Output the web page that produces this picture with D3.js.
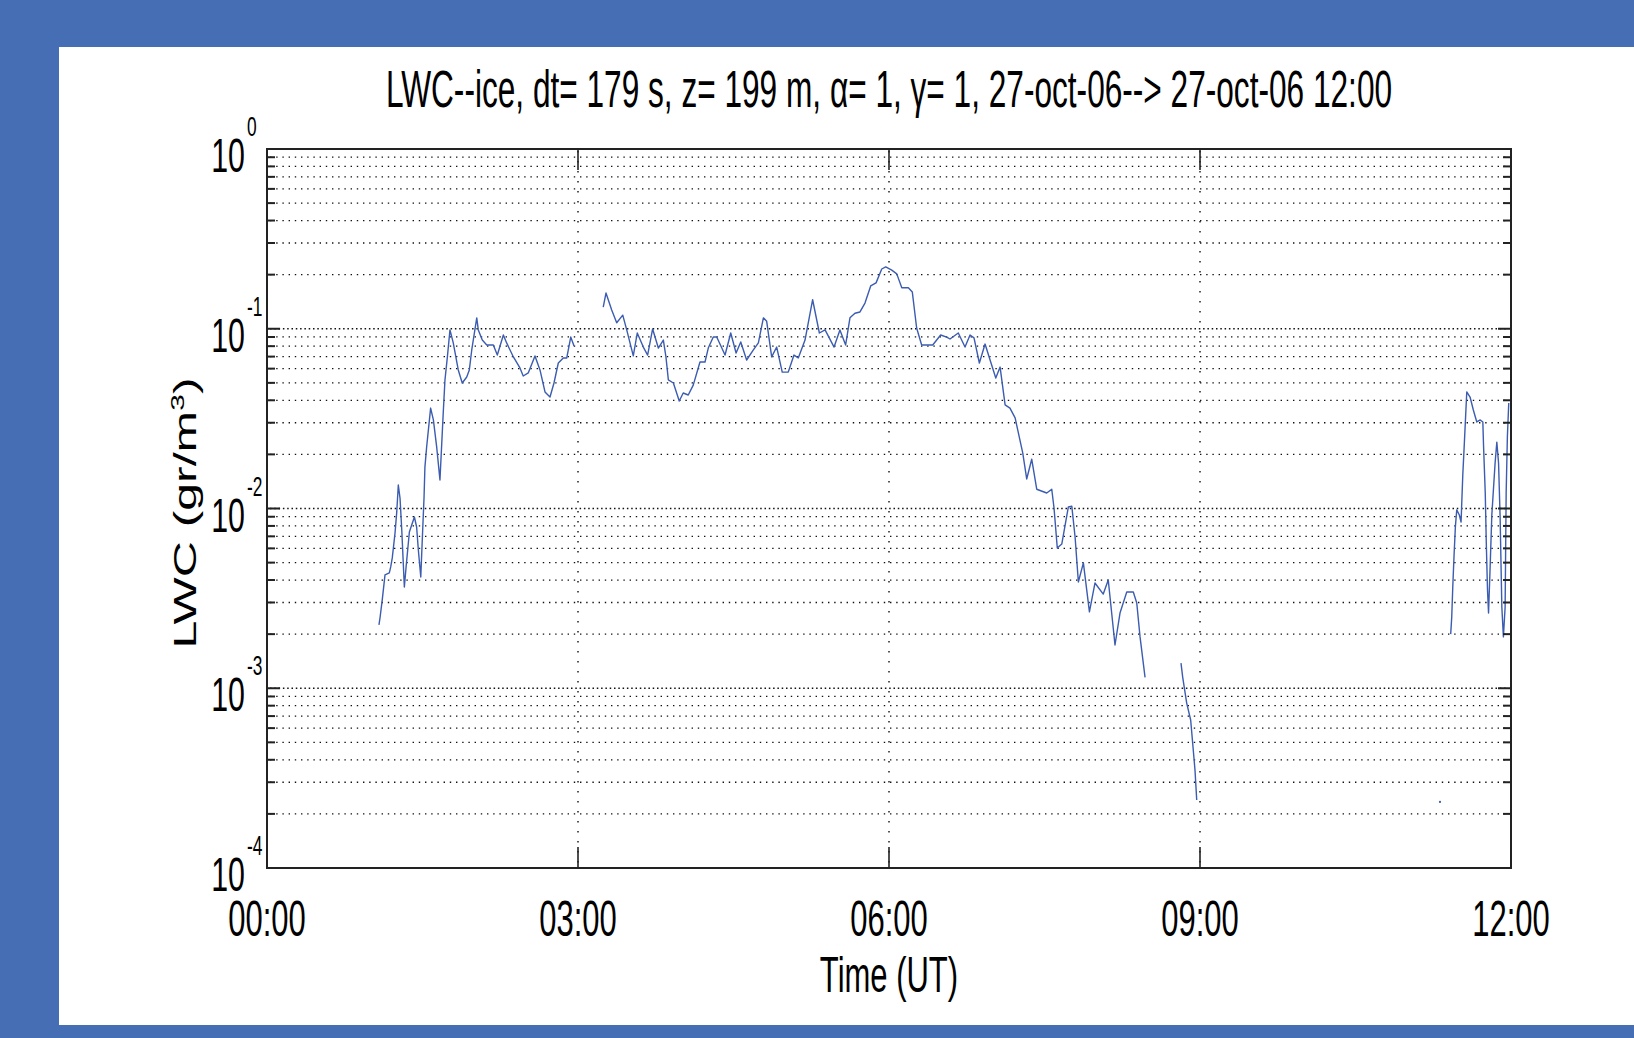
<!DOCTYPE html>
<html>
<head>
<meta charset="utf-8">
<script src="https://cdn.jsdelivr.net/npm/d3@7"></script>
<style>
  html, body { margin: 0; padding: 0; background: #466eb4; }
  svg { display: block; }
  text { font-family: "Liberation Sans", Arial, Helvetica, sans-serif; fill: #000; }
</style>
</head>
<body>
<svg id="chart" width="1634" height="1038"></svg>
<script>
// ---- labels -------------------------------------------------------------
const titleText = "LWC--ice, dt= 179 s, z= 199 m, \u03b1= 1, \u03b3= 1, 27-oct-06--> 27-oct-06 12:00";
const xAxisTitle = "Time (UT)";
const yAxisTitle = "LWC (gr/m";
const yAxisTitleSup = "3";

// ---- ticks --------------------------------------------------------------
const xTickMinutes = [0, 180, 360, 540, 720];
const xTickLabels = ["00:00", "03:00", "06:00", "09:00", "12:00"];
const yTickExponents = [0, -1, -2, -3, -4];

// ---- LWC series: [minutes after 00:00 UT, g/m^3], split where data are missing
const lwcSeg1 = [
  [64.8,0.00225],[65.4,0.00246],[66.7,0.00310],[68.3,0.00427],[70.8,0.00438],[71.6,0.00473],
  [72.5,0.00531],[74.1,0.00731],[75.1,0.00957],[76.0,0.0135],[77.0,0.0114],[78.0,0.00759],
  [79.5,0.00366],[80.5,0.00473],[82.4,0.00740],[85.3,0.00897],[86.6,0.00789],[87.6,0.00588],
  [89.0,0.00416],[90.1,0.00759],[90.9,0.0116],[91.4,0.0170],[92.4,0.0220],[94.7,0.0362],
  [96.3,0.0311],[98.2,0.0220],[100.1,0.0144],[102.0,0.0340],[103.0,0.0519],[104.4,0.0697],
  [105.9,0.0985],[107.8,0.0834],[110.7,0.0590],[113.0,0.0499],[115.6,0.0539],[117.1,0.0590],
  [118.5,0.0762],[121.4,0.115],[122.3,0.0985],[124.6,0.0865],[127.2,0.0812],[131.0,0.0812],
  [133.3,0.0714],[136.8,0.0923],[138.7,0.0834],[142.6,0.0697],[146.4,0.0605],[148.3,0.0546],
  [151.2,0.0568],[155.1,0.0706],[158.0,0.0590],[160.9,0.0445],[163.8,0.0417],[166.1,0.0499],
  [168.6,0.0645],[171.5,0.0688],[173.5,0.0688],[175.8,0.0899],[177.7,0.0802]
];
const lwcSeg2 = [
  [194.6,0.132],[196.2,0.158],[199.5,0.127],[202.4,0.108],[205.9,0.119],[208.2,0.0985],
  [212.0,0.0706],[214.3,0.0947],[217.8,0.0791],[220.3,0.0714],[223.2,0.0997],[226.5,0.0781],
  [229.4,0.0865],[230.9,0.0697],[232.3,0.0519],[235.2,0.0499],[238.6,0.0396],[240.9,0.0439],
  [243.8,0.0428],[246.7,0.0486],[250.6,0.0653],[253.5,0.0653],[255.4,0.0781],[258.3,0.0899],
  [260.3,0.0899],[265.1,0.0714],[268.4,0.0947],[271.5,0.0733],[274.2,0.0844],[277.6,0.0670],
  [281.5,0.0762],[284.4,0.0834],[287.3,0.115],[289.2,0.110],[292.1,0.0697],[295.0,0.0791],
  [298.2,0.0574],[301.7,0.0574],[305.0,0.0714],[307.5,0.0688],[311.4,0.0865],[315.8,0.145],
  [319.7,0.0947],[323.0,0.0985],[328.2,0.0791],[331.6,0.0985],[334.9,0.0812],[337.4,0.115],
  [340.3,0.122],[343.2,0.124],[346.1,0.139],[349.4,0.173],[352.5,0.180],[355.8,0.215],
  [358.1,0.221],[361.6,0.212],[364.5,0.202],[367.4,0.169],[371.2,0.169],[373.5,0.160],
  [376.0,0.101],[378.9,0.0812],[385.3,0.0812],[389.9,0.0923],[393.4,0.0899],[395.3,0.0877],
  [400.1,0.0947],[404.0,0.0791],[406.9,0.0923],[409.2,0.0889],[412.3,0.0645],[415.6,0.0822],
  [418.5,0.0670],[421.8,0.0532],[424.3,0.0612],[427.2,0.0377],[430.0,0.0362],[433.0,0.0319],
  [437.4,0.0204],[439.7,0.0146],[442.6,0.0188],[445.5,0.0128],[451.3,0.0122],[454.2,0.0128],
  [455.5,0.0101],[457.4,0.00603],[460.0,0.00634],[463.8,0.0102],[465.8,0.0103],[467.7,0.00694],
  [469.6,0.00390],[472.5,0.00498],[476.0,0.00266],[479.2,0.00385],[484.0,0.00334],[486.9,0.00400],
  [490.8,0.00174],[493.7,0.00262],[497.6,0.00343],[501.4,0.00343],[503.4,0.00298],[505.3,0.00193],
  [508.2,0.00115]
];
const lwcSeg3 = [
  [529.0,0.00138],[530.0,0.00115],[532.3,0.000827],[534.6,0.000666],[537.1,0.000351],[538.1,0.000239]
];
const lwcSeg4 = [
  [678.9,0.000233]
];
const lwcSeg5 = [
  [685.1,0.00200],[685.7,0.00249],[686.3,0.00366],[687.0,0.00537],[687.8,0.00789],[688.6,0.00982],
  [690.1,0.00920],[691.1,0.00841],[692.1,0.0154],[693.0,0.0231],[694.4,0.0445],[696.3,0.0417],
  [698.2,0.0353],[700.2,0.0303],[702.2,0.0311],[703.7,0.0303],[704.1,0.0225],[705.1,0.0122],
  [705.7,0.00643],[706.4,0.00352],[707.0,0.00262],[708.0,0.00498],[708.9,0.00920],[710.8,0.0179],
  [711.8,0.0234],[712.8,0.0179],[713.7,0.00897],[714.7,0.00283],[715.6,0.00193],[716.6,0.00283],
  [717.2,0.0122],[717.9,0.0250],[718.7,0.0386]
];
const lwcSegments = [lwcSeg1, lwcSeg2, lwcSeg3, lwcSeg4, lwcSeg5];

// ---- layout ---------------------------------------------------------------
const W = 1634, H = 1038;
const panel = { x: 59, y: 47, w: W - 59, h: 1025 - 47 };
const plot = { left: 267, right: 1511, top: 149, bottom: 868 };
const squeeze = 0.62;            // horizontal compression of all lettering
const ink = "#111";
const lineColor = "#3b5cb0";

const svg = d3.select("#chart");

svg.append("rect").attr("x", 0).attr("y", 0).attr("width", W).attr("height", H).attr("fill", "#466eb4");
svg.append("rect").attr("x", panel.x).attr("y", panel.y).attr("width", panel.w).attr("height", panel.h).attr("fill", "#fff");

const x = d3.scaleLinear().domain([0, 720]).range([plot.left, plot.right]);
const y = d3.scaleLog().domain([1e-4, 1]).range([plot.bottom, plot.top]);

// log grid values: 1..9 x 10^n
const gridVals = [];
for (let n = -4; n < 0; n++) {
  for (let k = 1; k <= 9; k++) gridVals.push({ v: k * Math.pow(10, n), major: k === 1 });
}

const grid = svg.append("g");
// horizontal dotted grid
grid.selectAll("line.hg").data(gridVals.filter(d => d.v > 1e-4)).join("line")
  .attr("class", "hg")
  .attr("x1", plot.left + 3).attr("x2", plot.right - 3)
  .attr("y1", d => y(d.v)).attr("y2", d => y(d.v))
  .attr("stroke", ink)
  .attr("stroke-width", d => d.major ? 1.5 : 1.3)
  .attr("stroke-dasharray", d => d.major ? "1.5,2.8" : "1.4,4.8");
// vertical dotted grid
grid.selectAll("line.vg").data(xTickMinutes.slice(1, -1)).join("line")
  .attr("class", "vg")
  .attr("x1", d => x(d)).attr("x2", d => x(d))
  .attr("y1", plot.top + 2).attr("y2", plot.bottom - 2)
  .attr("stroke", ink).attr("stroke-width", 1.4)
  .attr("stroke-dasharray", "1.6,8.4");

// ---- data line ----------------------------------------------------------------
const line = d3.line().x(d => x(d[0])).y(d => y(d[1]));
const series = svg.append("g");
lwcSegments.forEach(seg => {
  if (seg.length > 1) {
    series.append("path").datum(seg)
      .attr("d", line)
      .attr("fill", "none").attr("stroke", lineColor)
      .attr("stroke-width", 1.4).attr("stroke-linejoin", "round");
  } else {
    series.append("circle")
      .attr("cx", x(seg[0][0])).attr("cy", y(seg[0][1])).attr("r", 1.1)
      .attr("fill", lineColor);
  }
});

// ---- axes box and ticks ---------------------------------------------------
const axes = svg.append("g");
axes.append("rect")
  .attr("x", plot.left).attr("y", plot.top)
  .attr("width", plot.right - plot.left).attr("height", plot.bottom - plot.top)
  .attr("fill", "none").attr("stroke", "#222").attr("stroke-width", 2);

const yTickVals = gridVals.concat([{ v: 1, major: true }]);
[plot.left, plot.right].forEach((edge, i) => {
  const dir = i === 0 ? 1 : -1;
  axes.append("g").selectAll("line").data(yTickVals).join("line")
    .attr("x1", edge).attr("x2", d => edge + dir * (d.major ? 13 : 8))
    .attr("y1", d => y(d.v)).attr("y2", d => y(d.v))
    .attr("stroke", "#222").attr("stroke-width", 2);
});
[plot.top, plot.bottom].forEach((edge, i) => {
  const dir = i === 0 ? 1 : -1;
  axes.append("g").selectAll("line").data(xTickMinutes).join("line")
    .attr("x1", d => x(d)).attr("x2", d => x(d))
    .attr("y1", edge).attr("y2", edge + dir * 21)
    .attr("stroke", "#222").attr("stroke-width", 1.6);
});

// ---- lettering --------------------------------------------------------------
function squeezed(g, tx, ty, extra) {
  return g.append("text")
    .attr("transform", `translate(${tx},${ty}) scale(${squeeze},1)` + (extra || ""));
}

const labels = svg.append("g");

squeezed(labels, (plot.left + plot.right) / 2, 107)
  .attr("text-anchor", "middle").attr("font-size", 51).text(titleText);

xTickMinutes.forEach((m, i) => {
  squeezed(labels, x(m), 936).attr("text-anchor", "middle").attr("font-size", 50).text(xTickLabels[i]);
});

squeezed(labels, (plot.left + plot.right) / 2, 992)
  .attr("text-anchor", "middle").attr("font-size", 50).text(xAxisTitle);

yTickExponents.forEach(e => {
  const ty = y(Math.pow(10, e));
  squeezed(labels, 245, ty + 23).attr("text-anchor", "end").attr("font-size", 49).text("10");
  squeezed(labels, 247, ty - 13).attr("text-anchor", "start").attr("font-size", 28).text(String(e));
});

const yl = squeezed(labels, 196, 513, " rotate(-90)")
  .attr("text-anchor", "middle").attr("font-size", 50);
yl.append("tspan").text(yAxisTitle);
yl.append("tspan").attr("font-size", 30).attr("dy", -19).text(yAxisTitleSup);
yl.append("tspan").attr("dy", 19).text(")");
</script>
</body>
</html>
